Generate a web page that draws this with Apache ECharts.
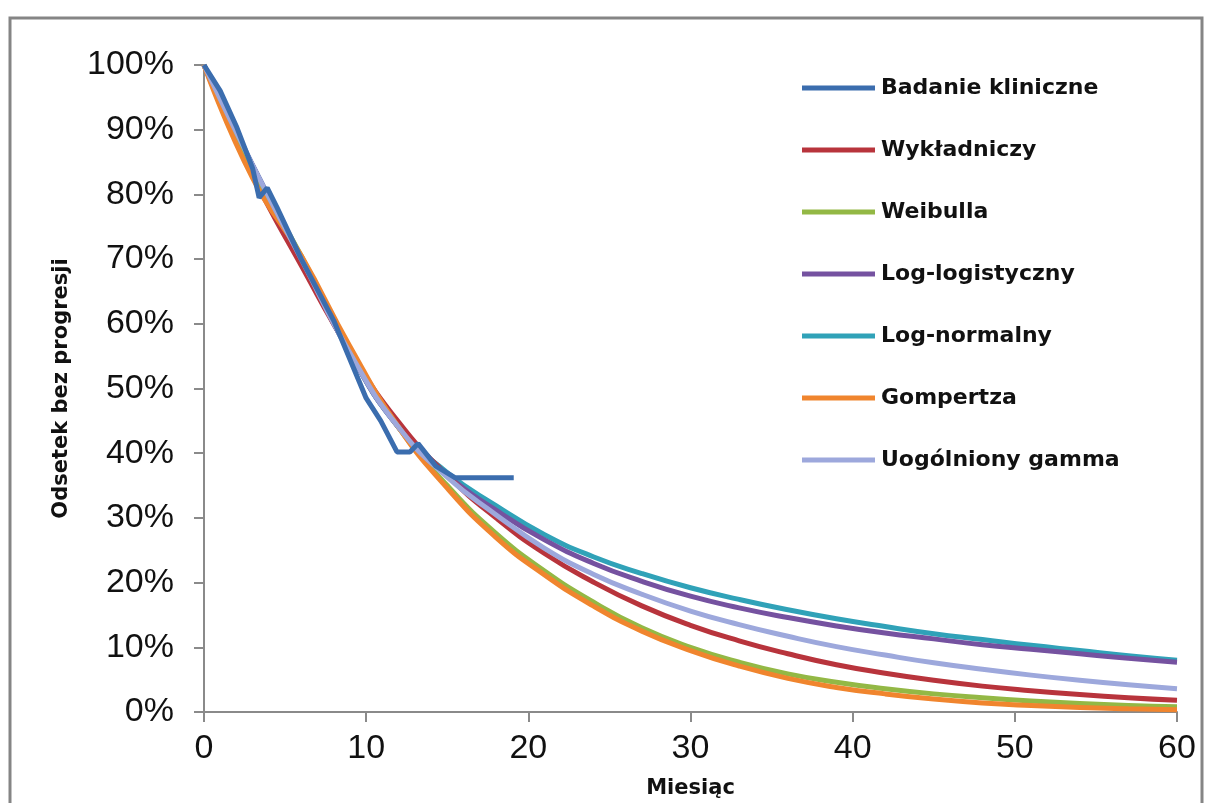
<!DOCTYPE html>
<html>
<head>
<meta charset="utf-8">
<style>
  html, body { margin: 0; padding: 0; background: #fff; }
  #chart { width: 1206px; height: 803px; }
</style>
<script src="https://cdn.jsdelivr.net/npm/echarts@6/dist/echarts.min.js"></script>
</head>
<body>
<div id="chart"></div>
<script>
// miesiące dla krzywych modelowych (co 3 mies.)
var months = [0, 3, 6, 9, 12, 15, 18, 21, 24, 27, 30, 33, 36, 39, 42, 45, 48, 51, 54, 57, 60];

var wykladniczy = [100, 83, 69, 55.8, 44.8, 36.6, 30, 24.5, 20.1, 16.4, 13.4, 11, 9, 7.3, 6, 4.9, 4, 3.3, 2.7, 2.2, 1.8];
var weibulla    = [100, 84, 70.5, 56, 44, 35, 27.6, 21.8, 17, 13, 10, 7.7, 5.9, 4.6, 3.6, 2.8, 2.2, 1.7, 1.3, 1.0, 0.8];
var logLogist   = [100, 84.5, 70, 55.5, 44, 36.6, 31.2, 26.6, 23, 20.2, 17.9, 16.1, 14.6, 13.3, 12.2, 11.3, 10.4, 9.7, 9, 8.3, 7.7];
var logNormal   = [100, 84.5, 70, 55.5, 44, 37, 31.9, 27.4, 24, 21.4, 19.2, 17.4, 15.8, 14.4, 13.2, 12.1, 11.2, 10.3, 9.5, 8.7, 8];
var gompertz    = [100, 82.5, 70.5, 56.5, 44, 34.6, 27, 21.2, 16.4, 12.5, 9.5, 7.1, 5.2, 3.8, 2.8, 2.0, 1.4, 1.0, 0.7, 0.5, 0.35];
var gamma       = [100, 84.5, 70, 55.5, 44, 36.3, 30.5, 25.3, 21.3, 18.2, 15.6, 13.5, 11.7, 10.1, 8.8, 7.6, 6.6, 5.7, 4.9, 4.2, 3.6];

// dane z badania klinicznego
var clinMonths = [0, 1, 2, 3, 3.4, 3.9, 4.5, 6, 8, 10, 10.9, 11.9, 12.7, 13.2, 14.3, 15.5, 19.1];
var clinValues = [100, 96, 90.5, 84, 79.5, 81, 78, 70, 60.5, 48.5, 45, 40.2, 40.2, 41.5, 38, 36.2, 36.2];

var seriesNames = ['Badanie kliniczne', 'Wykładniczy', 'Weibulla', 'Log-logistyczny', 'Log-normalny', 'Gompertza', 'Uogólniony gamma'];
var seriesColors = ['#3B6DAE', '#B8343C', '#93B845', '#7552A0', '#30A2B8', '#F0852E', '#9DA8DC'];

function pairs(xs, ys) {
    return xs.map(function (x, i) { return [x, ys[i]]; });
}

var modelData = [wykladniczy, weibulla, logLogist, logNormal, gompertz, gamma];
var series = [];
// kolejność rysowania: modele pod spodem, badanie na wierzchu
var drawOrder = [3, 2, 0, 1, 4, 5];
drawOrder.forEach(function (k) {
    series.push({
        name: seriesNames[k + 1],
        type: 'line',
        smooth: true,
        showSymbol: false,
        data: pairs(months, modelData[k]),
        lineStyle: { width: 5, color: seriesColors[k + 1] },
        itemStyle: { color: seriesColors[k + 1] },
        z: 2
    });
});
series.push({
    name: seriesNames[0],
    type: 'line',
    showSymbol: false,
    data: pairs(clinMonths, clinValues),
    lineStyle: { width: 5, color: seriesColors[0] },
    itemStyle: { color: seriesColors[0] },
    z: 3
});

var chart = echarts.init(document.getElementById('chart'));
chart.setOption({
    animation: false,
    backgroundColor: '#fff',
    graphic: [{
        type: 'rect',
        shape: { x: 10, y: 18, width: 1192, height: 800 },
        style: { fill: 'none', stroke: '#858585', lineWidth: 3 },
        z: -1
    }],
    grid: { left: 204, right: 29, top: 65, bottom: 91, outerBoundsMode: 'none' },
    legend: {
        orient: 'vertical',
        left: 797,
        top: 71,
        data: seriesNames,
        icon: 'rect',
        itemWidth: 73,
        itemHeight: 5,
        itemGap: 38,
        textStyle: {
            fontFamily: 'DejaVu Sans',
            fontWeight: 'bold',
            fontSize: 22,
            color: '#111',
            lineHeight: 24,
            padding: [0, 0, 0, 1]
        }
    },
    xAxis: {
        type: 'value',
        min: 0,
        max: 60,
        interval: 10,
        name: 'Miesiąc',
        nameLocation: 'middle',
        nameGap: 66,
        nameTextStyle: { fontFamily: 'DejaVu Sans', fontWeight: 'bold', fontSize: 21, color: '#111' },
        axisLine: { lineStyle: { color: '#8a8a8a', width: 2 } },
        axisTick: { show: true, length: 10, lineStyle: { color: '#8a8a8a', width: 2 } },
        axisLabel: { fontFamily: 'Liberation Sans', fontSize: 34, color: '#111', margin: 20 },
        splitLine: { show: false }
    },
    yAxis: {
        type: 'value',
        min: 0,
        max: 100,
        interval: 10,
        name: 'Odsetek bez progresji',
        nameLocation: 'middle',
        nameGap: 132,
        nameTextStyle: { fontFamily: 'DejaVu Sans', fontWeight: 'bold', fontSize: 21, color: '#111' },
        axisLine: { show: true, lineStyle: { color: '#8a8a8a', width: 2 } },
        axisTick: { show: true, length: 10, lineStyle: { color: '#8a8a8a', width: 2 } },
        axisLabel: { fontFamily: 'Liberation Sans', fontSize: 34, color: '#111', margin: 30, formatter: '{value}%' },
        splitLine: { show: false }
    },
    series: series
});
</script>
</body>
</html>
